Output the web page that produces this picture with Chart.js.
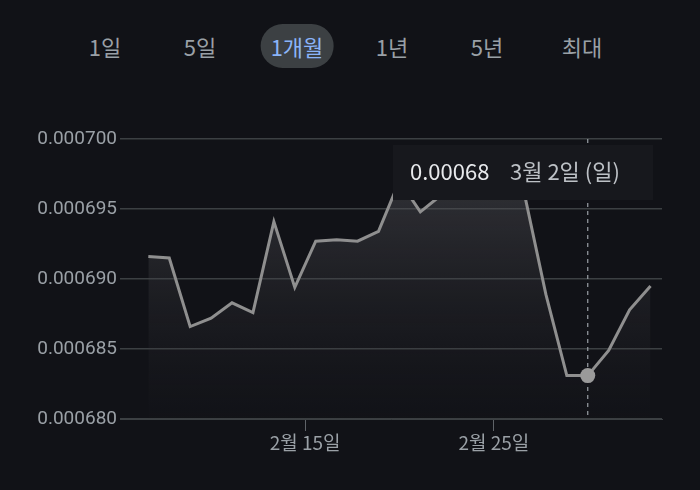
<!DOCTYPE html>
<html><head><meta charset="utf-8">
<script src="https://cdn.jsdelivr.net/npm/chart.js@4"></script>
<style>
body{margin:0;background:#111217;width:700px;height:490px;overflow:hidden;font-family:"Noto Sans CJK KR","Noto Sans",sans-serif;}
#bar{position:absolute;top:24px;left:0;width:700px;height:44px;}
.b{position:absolute;top:0;height:44px;line-height:44px;font-size:22px;color:#9aa0a6;transform:translateX(-50%);padding:0 10px;border-radius:22px;white-space:nowrap}
.sel{background:#3c4043;color:#8ab4f8}
#c{position:absolute;left:0;top:0}
</style></head><body>
<div id="bar"></div>
<canvas id="c" width="700" height="490"></canvas>
<script>
const ranges=["1일","5일","1개월","1년","5년","최대"];
const rangeX=[105,200,297,392,487,582];
const values=[0.0006916,0.0006915,0.0006866,0.0006872,0.0006883,0.0006876,0.0006941,0.0006894,0.0006927,0.0006928,0.0006927,0.0006934,0.0006970,0.0006948,0.0006960,0.0006970,0.0006972,0.0006968,0.0006959,0.0006889,0.0006831,0.0006831,0.0006849,0.0006878,0.0006895];
const startDay=6.7, dayStep=1.108;
const days=values.map((v,i)=>startDay+i*dayStep);
const xTicks=[15,25];
const xTickLabels={15:"2월 15일",25:"2월 25일"};
const activeIndex=21;
const tipValue="0.00068", tipDate="3월 2일 (일)";
const bar=document.getElementById('bar');
ranges.forEach((r,i)=>{const d=document.createElement('div');d.className='b'+(i==2?' sel':'');d.textContent=r;d.style.left=rangeX[i]+'px';bar.appendChild(d);});
const overlay={id:'ov',afterDatasetsDraw(ch){
 const ctx=ch.ctx,a=ch.chartArea,xs=ch.scales.x,ys=ch.scales.y;
 const px=xs.getPixelForValue(days[activeIndex]),py=ys.getPixelForValue(values[activeIndex]);
 ctx.save();ctx.strokeStyle='#9aa0a6';ctx.lineWidth=1.2;ctx.setLineDash([4,4]);
 ctx.beginPath();ctx.moveTo(px,a.top);ctx.lineTo(px,a.bottom);ctx.stroke();ctx.setLineDash([]);
 ctx.fillStyle='#9a9a9a';ctx.beginPath();ctx.arc(px,py,7.5,0,Math.PI*2);ctx.fill();
 ctx.fillStyle='#17181d';ctx.fillRect(393,145,260,55);
 ctx.font='22px "Noto Sans CJK KR"';ctx.textBaseline='middle';
 ctx.fillStyle='#e8eaed';ctx.fillText(tipValue,410,172);
 ctx.fillStyle='#bdc1c6';ctx.fillText(tipDate,510,172);
 ctx.restore();}};
new Chart(document.getElementById('c'),{type:'line',
 data:{datasets:[{data:days.map((d,i)=>({x:d,y:values[i]})),borderColor:'#8f8f8f',borderWidth:3,pointRadius:0,tension:0,
  fill:'start',backgroundColor:(c)=>{const a=c.chart.chartArea;if(!a)return 'rgba(0,0,0,0)';const g=c.chart.ctx.createLinearGradient(0,a.top,0,a.bottom);g.addColorStop(0,'rgba(90,90,95,0.55)');g.addColorStop(1,'rgba(40,40,45,0.05)');return g;}}]},
 options:{responsive:false,animation:false,events:[],layout:{padding:{top:139,left:0,right:38,bottom:30}},
  plugins:{legend:{display:false},tooltip:{enabled:false}},
  scales:{
   x:{type:'linear',min:5.2,max:33.9,afterBuildTicks:(s)=>{s.ticks=xTicks.map(v=>({value:v}));},
    afterFit:(s)=>{s.height=41;},
    border:{display:true,color:'#3c4043'},
    grid:{drawOnChartArea:false,color:'#5f6368',tickLength:12},
    ticks:{color:'#9aa0a6',font:{size:19,family:'"Noto Sans CJK KR"'},callback:(v)=>xTickLabels[v]||'',maxRotation:0,padding:0}},
   y:{min:0.00068,max:0.0007,border:{display:false},
    afterFit:(s)=>{s.width=120;},
    afterBuildTicks:(s)=>{s.ticks=[0.00068,0.000685,0.00069,0.000695,0.0007].map(v=>({value:v}));},
    grid:{color:'#3c4043',lineWidth:1.5,drawTicks:false},
    ticks:{color:'#9aa0a6',font:{size:19,family:'Roboto'},padding:3,callback:(v)=>v.toFixed(6)}}}},
 plugins:[overlay]});
</script></body></html>
